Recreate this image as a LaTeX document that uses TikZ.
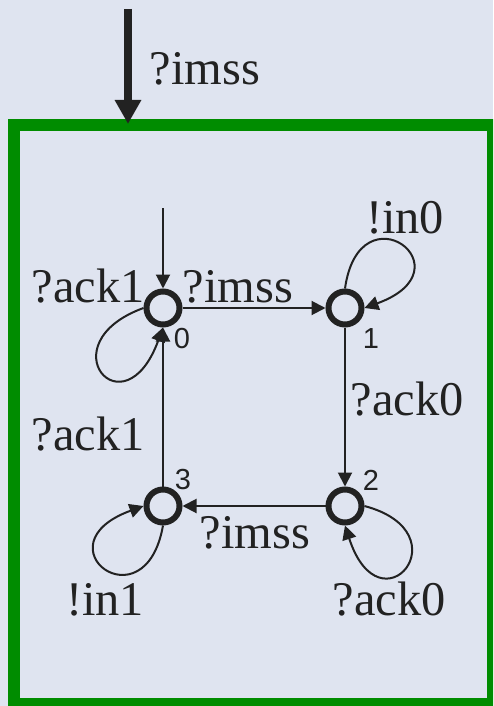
\documentclass[tikz,border=0pt]{standalone}
\usepackage{fontspec}
\setmainfont{Liberation Serif}
\newfontfamily\numfont{Liberation Sans}
\usetikzlibrary{arrows.meta}
\definecolor{bgcol}{HTML}{DFE4F0}
\definecolor{inkcol}{HTML}{222222}
\definecolor{framecol}{HTML}{008C00}
\begin{document}
\begin{tikzpicture}[x=0.5pt,y=-0.5pt,
  state/.style={circle,draw=inkcol,line width=3pt,minimum size=16.5pt,inner sep=0pt},
  edge/.style={draw=inkcol,line width=1pt,-{Triangle[length=7pt,width=7pt]}},
  lbl/.style={anchor=base,inner sep=0pt,text=inkcol,font=\fontsize{24.2}{28}\selectfont},
  num/.style={inner sep=0pt,text=inkcol,font=\numfont\fontsize{14.5}{16}\selectfont}]
  % canvas and frame
  \useasboundingbox (0,0) rectangle (493,706);
  \fill[bgcol] (0,0) rectangle (493,706);
  \clip (0,0) rectangle (493,706);
  \draw[framecol,line width=6pt] (14,125) rectangle (493,704);

  % entry into the component
  \coordinate (top) at (128,9);
  \coordinate (entry) at (128,124);
  \draw[inkcol,line width=4pt,-{Triangle[length=12pt,width=12.5pt]}] (top) -- (entry);
  \node[lbl] (tlbl) at (205,85) {?imss};

  % states
  \node[state] (s0) at (163,308) {};
  \node[state] (s1) at (345,308) {};
  \node[state] (s2) at (345,506) {};
  \node[state] (s3) at (163,506) {};
  \node[num] (n0) at (182,339) {0};
  \node[num] (n1) at (371,339) {1};
  \node[num] (n2) at (371,480) {2};
  \node[num] (n3) at (183,480) {3};

  % initial marker
  \coordinate (init) at (163,208);
  \draw[edge] (init) -- (s0.north);

  % transitions
  \draw[edge] (s0.east) -- (s1.west);
  \draw[edge] (s1.south) -- (s2.north);
  \draw[edge] (s2.west) -- (s3.east);
  \draw[edge] (s3.north) -- (s0.south);

  % self loops
  \draw[edge] (s0.west) .. controls +(200:52pt) and +(250:57pt) .. (s0.south);
  \draw[edge] (s1.north) .. controls +(82:52pt) and +(20:57pt) .. (s1.east);
  \draw[edge] (s2.east) .. controls +(-15:52pt) and +(-72:57pt) .. (s2.south);
  \draw[edge] (s3.south) .. controls +(-100:52pt) and +(200:57pt) .. (s3.west);

  % transition labels
  \node[lbl] (l01) at (238,302) {?imss};
  \node[lbl] (l00) at (88,302) {?ack1};
  \node[lbl] (l11) at (405,233) {!in0};
  \node[lbl] (l12) at (407,415) {?ack0};
  \node[lbl] (l30) at (88,450) {?ack1};
  \node[lbl] (l23) at (255,548) {?imss};
  \node[lbl] (l33) at (105,615) {!in1};
  \node[lbl] (l22) at (389,615) {?ack0};
\end{tikzpicture}
\end{document}
